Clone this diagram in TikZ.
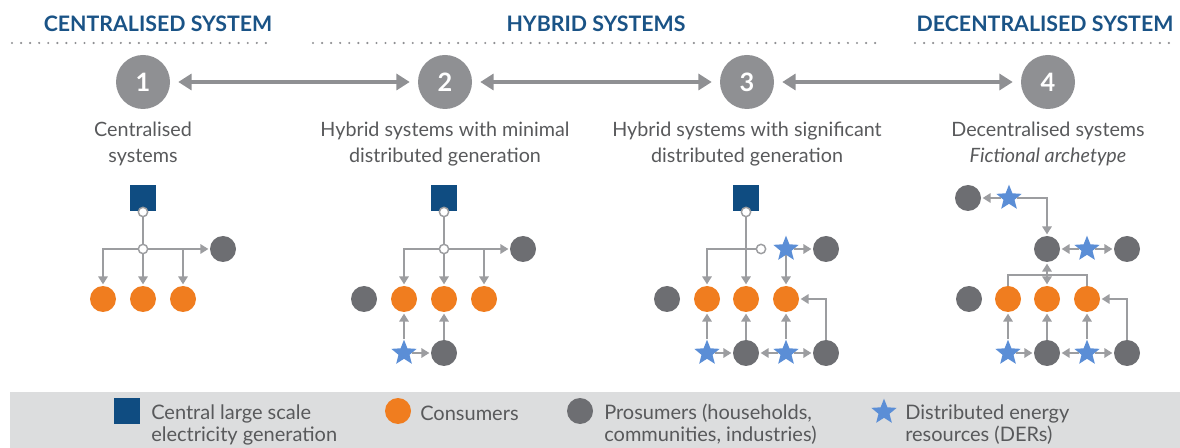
\documentclass[tikz,border=0pt]{standalone}
\usepackage{fontspec}
\setmainfont{Lato}
\usetikzlibrary{arrows.meta,shapes.geometric}
\definecolor{navy}{HTML}{0F4C81}
\definecolor{headblue}{HTML}{1A5386}
\definecolor{consorange}{HTML}{F07D1F}
\definecolor{prosgray}{HTML}{6D6E72}
\definecolor{derblue}{HTML}{5B8ED6}
\definecolor{linegray}{HTML}{9C9DA0}
\definecolor{numgray}{HTML}{8F9093}
\definecolor{textgray}{HTML}{58595B}
\definecolor{bandgray}{HTML}{DCDDDE}
\tikzset{
  cons/.style={circle,fill=consorange,minimum size=19.5pt,inner sep=0pt},
  pros/.style={circle,fill=prosgray,minimum size=19.5pt,inner sep=0pt},
  der/.style={star,star points=5,star point ratio=2.3,fill=derblue,minimum size=20pt,inner sep=0pt},
  plant/.style={rectangle,fill=navy,minimum size=19.5pt,inner sep=0pt},
  tap/.style={circle,draw=linegray,fill=white,line width=1.1pt,minimum size=7pt,inner sep=0pt},
  wire/.style={draw=linegray,line width=1.5pt},
  flow/.style={wire,-{Triangle[length=6pt,width=7pt]},shorten >=1pt},
  flowboth/.style={wire,{Triangle[length=6pt,width=7pt]}-{Triangle[length=6pt,width=7pt]},shorten >=1pt,shorten <=1pt},
  stage/.style={circle,fill=numgray,text=white,font=\bfseries\fontsize{19}{19}\selectfont,minimum size=40.5pt,inner sep=0pt},
  mainarrow/.style={draw=numgray,line width=2.4pt,{Triangle[length=10pt,width=12pt]}-{Triangle[length=10pt,width=12pt]},shorten >=6pt,shorten <=6pt},
  sectitle/.style={anchor=base,text=headblue,font=\bfseries\fontsize{16}{19}\selectfont,inner sep=0pt},
  stagetext/.style={anchor=base,align=center,text=textgray,font=\fontsize{14.8}{19.5}\selectfont,inner sep=0pt},
  keytext/.style={anchor=base west,align=left,text=textgray,font=\fontsize{15}{16}\selectfont,inner sep=0pt},
  dotrule/.style={draw=numgray,line width=1.8pt,line cap=round,dash pattern=on 0pt off 6.8pt}
}
\begin{document}
\begin{tikzpicture}[x=0.75pt,y=-0.75pt]
  %%%%% START %%%%%
  \useasboundingbox (0,0) rectangle (1180,448);

  % headings
  \node[sectitle] (hcen) at (158,32) {CENTRALISED SYSTEM};
  \node[sectitle] (hhyb) at (596,32) {HYBRID SYSTEMS};
  \node[sectitle] (hdec) at (1045,32) {DECENTRALISED SYSTEM};
  \draw[dotrule] (12,43) -- (270,43);
  \draw[dotrule] (313,43) -- (877,43);
  \draw[dotrule] (915,43) -- (1173,43);

  % stages
  \node[stage] (n1) at (143,82) {1};
  \node[stage] (n2) at (445,82) {2};
  \node[stage] (n3) at (747,82) {3};
  \node[stage] (n4) at (1048,82) {4};
  \draw[mainarrow] (n1) -- (n2);
  \draw[mainarrow] (n2) -- (n3);
  \draw[mainarrow] (n3) -- (n4);

  \node[stagetext] (t1) at (143,163) {Centralised\\systems};
  \node[stagetext] (t2) at (445,163) {Hybrid systems with minimal\\distributed generation};
  \node[stagetext] (t3) at (747,163) {Hybrid systems with significant\\distributed generation};
  \node[stagetext] (t4) at (1048,163) {Decentralised systems\\\textit{Fictional archetype}};

  % system 1
  \node[plant] (g1) at (143,198) {};
  \node[tap] (w1a) at (143,212) {};
  \node[tap] (w1b) at (143,249) {};
  \node[pros] (p1) at (223,249) {};
  \node[cons] (c1a) at (103,299) {};
  \node[cons] (c1b) at (143,299) {};
  \node[cons] (c1c) at (183,299) {};
  \draw[wire] (w1a) -- (w1b);
  \draw[flow] (w1b) -| (c1a);
  \draw[flow] (w1b) -- (c1b);
  \draw[flow] (w1b) -- (p1);
  \draw[flow] (w1b -| c1c) -- (c1c);

  % system 2
  \node[plant] (g2) at (444,198) {};
  \node[tap] (w2a) at (444,212) {};
  \node[tap] (w2b) at (444,249) {};
  \node[pros] (p2a) at (523,249) {};
  \node[pros] (p2b) at (364,299) {};
  \node[cons] (c2a) at (404,299) {};
  \node[cons] (c2b) at (444,299) {};
  \node[cons] (c2c) at (484,299) {};
  \node[der] (s2a) at (404,353) {};
  \node[pros] (p2c) at (444,353) {};
  \draw[wire] (w2a) -- (w2b);
  \draw[flow] (w2b) -| (c2a);
  \draw[flow] (w2b) -- (c2b);
  \draw[flow] (w2b) -- (p2a);
  \draw[flow] (w2b -| c2c) -- (c2c);
  \draw[flow] (s2a) -- (c2a);
  \draw[flow] (s2a) -- (p2c);
  \draw[flow] (p2c) -- (c2b);

  % system 3
  \node[plant] (g3) at (746,198) {};
  \node[tap] (w3a) at (746,212) {};
  \node[tap] (w3b) at (761,249) {};
  \node[der] (s3a) at (786,249) {};
  \node[pros] (p3a) at (826,249) {};
  \node[pros] (p3b) at (667,299) {};
  \node[cons] (c3a) at (707,299) {};
  \node[cons] (c3b) at (746,299) {};
  \node[cons] (c3c) at (786,299) {};
  \node[der] (s3b) at (707,353) {};
  \node[pros] (p3c) at (746,353) {};
  \node[der] (s3c) at (786,353) {};
  \node[pros] (p3d) at (826,353) {};
  \draw[flow] (w3a) -- (c3b);
  \draw[flow] (w3b) -| (c3a);
  \draw[flow] (s3a) -- (p3a);
  \draw[flow] (s3a) -- (c3c);
  \draw[flow] (s3b) -- (c3a);
  \draw[flow] (s3b) -- (p3c);
  \draw[flow] (p3c) -- (c3b);
  \draw[flow] (s3c) -- (p3c);
  \draw[flow] (s3c) -- (p3d);
  \draw[flow] (s3c) -- (c3c);
  \draw[flow] (p3d) |- (c3c);

  % system 4
  \coordinate (bus4) at (1047,275);
  \node[pros] (p4a) at (968,198) {};
  \node[der] (s4a) at (1009,198) {};
  \node[pros] (p4b) at (1047,249) {};
  \node[der] (s4b) at (1087,249) {};
  \node[pros] (p4c) at (1127,249) {};
  \node[pros] (p4d) at (969,299) {};
  \node[cons] (c4a) at (1008,299) {};
  \node[cons] (c4b) at (1047,299) {};
  \node[cons] (c4c) at (1087,299) {};
  \node[der] (s4c) at (1008,353) {};
  \node[pros] (p4e) at (1047,353) {};
  \node[der] (s4d) at (1087,353) {};
  \node[pros] (p4f) at (1127,353) {};
  \draw[flow] (s4a) -- (p4a);
  \draw[flow] (s4a) -| (p4b);
  \draw[flow] (s4b) -- (p4b);
  \draw[flow] (s4b) -- (p4c);
  \draw[wire] (c4a) -- (c4a |- bus4) -- (c4c |- bus4) -- (c4c);
  \draw[flowboth] (p4b) -- (c4b);
  \draw[flow] (s4c) -- (c4a);
  \draw[flow] (s4c) -- (p4e);
  \draw[flow] (p4e) -- (c4b);
  \draw[flow] (s4d) -- (p4e);
  \draw[flow] (s4d) -- (p4f);
  \draw[flow] (s4d) -- (c4c);
  \draw[flow] (p4f) |- (c4c);

  % key
  \fill[bandgray] (10,392) rectangle (1180,448);
  \node[plant] (kplant) at (127,411) {};
  \node[keytext] (kplantt) at (151,441) {Central large scale\\electricity generation};
  \node[cons] (kcons) at (398,411) {};
  \node[keytext] (kconst) at (420,420) {Consumers};
  \node[pros] (kpros) at (580,411) {};
  \node[keytext] (kprost) at (604,441) {Prosumers (households,\\communities, industries)};
  \node[der] (kder) at (884,412) {};
  \node[keytext] (kdert) at (905,441) {Distributed energy\\resources (DERs)};
  %%%%% END %%%%%
\end{tikzpicture}
\end{document}
